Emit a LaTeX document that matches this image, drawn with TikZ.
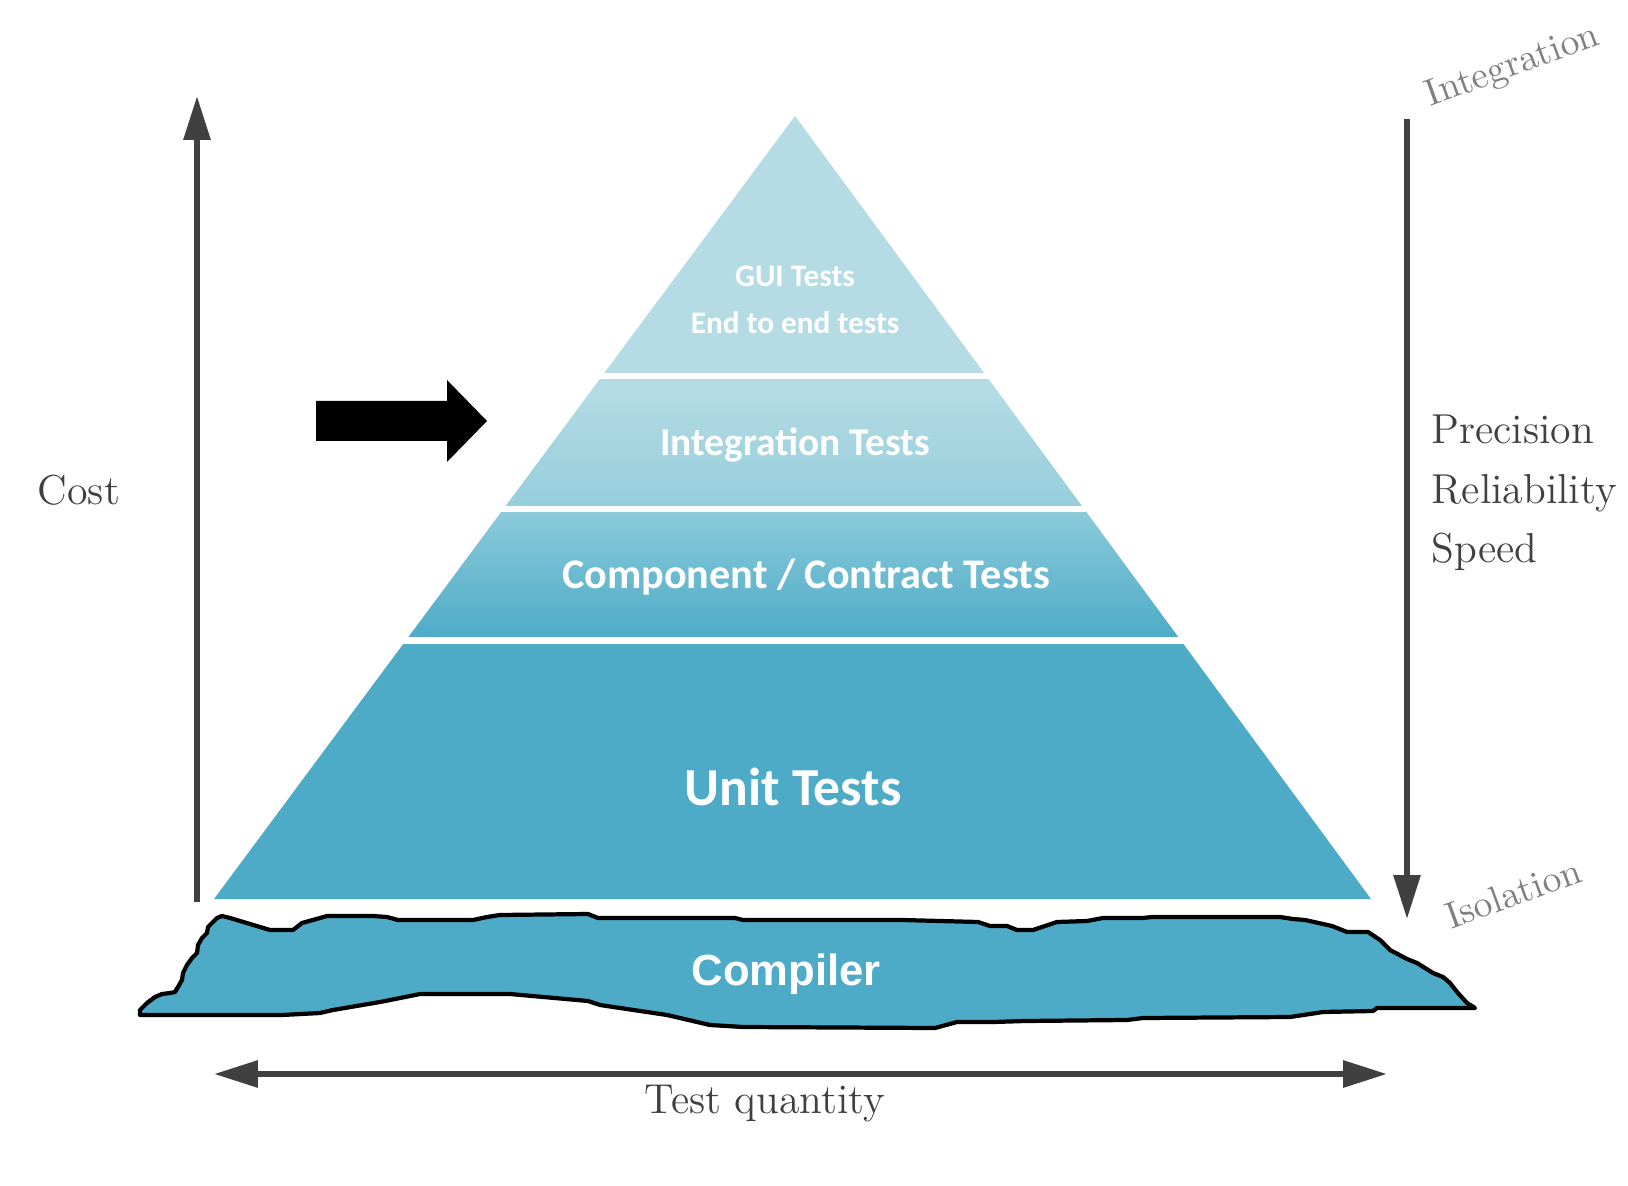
\documentclass[tikz,border=0pt]{standalone}
\usepackage{fontspec}
\usepackage{tikz}
\usetikzlibrary{arrows.meta}
\newfontfamily\tierfont{Carlito}
\newfontfamily\blobfont{Liberation Sans}
\definecolor{tierlight}{RGB}{181,220,229}
\definecolor{tiermid}{RGB}{150,206,220}
\definecolor{tiercomp}{RGB}{138,202,218}
\definecolor{tierdark}{RGB}{78,171,199}
\definecolor{axisgray}{RGB}{64,64,64}
\definecolor{notegray}{RGB}{128,128,128}

\begin{document}
\begin{tikzpicture}[x=0.01cm, y=-0.01cm,
    tier/.style={text=white, font=\tierfont\bfseries, inner sep=0pt},
    side/.style={text=axisgray, font=\fontsize{11.9}{17}\selectfont, inner sep=0pt},
    note/.style={text=notegray, font=\fontsize{10.7}{13}\selectfont, rotate=20, inner sep=0pt},
    axis/.style={draw=axisgray, line width=1.7pt, -{Triangle[length=12.5pt, width=7.4pt]}}]
    \useasboundingbox (0,0) rectangle (1628,1186);

    % Pyramid tiers
    \begin{scope}
        \clip (795,116) -- (214,899) -- (1371,899) -- cycle;
        \fill[tierlight] (0,100) rectangle (1628,373);
        \shade[top color=tierlight, bottom color=tiermid] (0,380) rectangle (1628,506);
        \shade[top color=tiercomp, bottom color=tierdark] (0,513) rectangle (1628,637);
        \fill[tierdark] (0,644) rectangle (1628,905);
    \end{scope}

    % Tier labels
    \node[tier, align=center, font=\tierfont\bfseries\fontsize{8.9}{13.4}\selectfont] (guitxt) at (795,300) {GUI Tests\\End to end tests};
    \node[tier, anchor=base, font=\tierfont\bfseries\fontsize{11.2}{13}\selectfont] (inttxt) at (795,456) {Integration Tests};
    \node[tier, anchor=base, font=\tierfont\bfseries\fontsize{12}{14}\selectfont] (comptxt) at (806,589) {Component / Contract Tests};
    \node[tier, anchor=base, font=\tierfont\bfseries\fontsize{15.2}{18}\selectfont] (unittxt) at (793,805) {Unit Tests};

    % Pointer
    \fill[black] (316,401) -- (447,401) -- (447,380) -- (487,421) -- (447,462) -- (447,441) -- (316,441) -- cycle;

    % Compiler
    \draw[fill=tierdark, draw=black, line width=1.2pt, line join=round]
        (140,1015) -- (140,1010) -- (147,1003) -- (155,997) -- (162,994) -- (170,993) -- (175,992)
        -- (178,987) -- (182,980) -- (183,973) -- (187,965) -- (192,958) -- (197,953) -- (198,945)
        -- (202,938) -- (207,933) -- (208,927) -- (217,918) -- (222,916) -- (230,918) -- (270,930)
        -- (293,930) -- (302,923) -- (320,918) -- (327,916) -- (373,916) -- (387,917) -- (398,920)
        -- (473,920) -- (487,917) -- (500,915) -- (588,914) -- (598,918) -- (735,918) -- (743,920)
        -- (902,920) -- (978,922) -- (990,926) -- (1007,926) -- (1017,930) -- (1033,930) -- (1057,922)
        -- (1087,921) -- (1103,918) -- (1143,918) -- (1152,917) -- (1280,917) -- (1293,919) -- (1305,920)
        -- (1332,926) -- (1347,932) -- (1368,932) -- (1380,940) -- (1390,950) -- (1407,959) -- (1417,963)
        -- (1433,973) -- (1443,977) -- (1450,983) -- (1457,992) -- (1467,1003) -- (1475,1008)
        -- (1377,1008) -- (1373,1011) -- (1323,1012) -- (1310,1014) -- (1290,1017) -- (1143,1018)
        -- (1127,1020) -- (1025,1021) -- (993,1022) -- (957,1022) -- (935,1028) -- (743,1027)
        -- (710,1025) -- (667,1015) -- (600,1005) -- (588,1001) -- (510,994) -- (420,994)
        -- (380,1002) -- (333,1010) -- (320,1013) -- (282,1015) -- cycle;
    \node[text=white, anchor=base, inner sep=0pt, font=\blobfont\bfseries\fontsize{12.4}{15}\selectfont] (compiler) at (786,985) {Compiler};

    % Axes
    \coordinate (costlow) at (197,902);
    \coordinate (costhigh) at (197,96);
    \coordinate (isotop) at (1407,119);
    \coordinate (isobot) at (1407,919);
    \coordinate (qleft) at (214,1074);
    \coordinate (qright) at (1387,1074);
    \draw[axis] (costlow) -- (costhigh);
    \draw[axis] (isotop) -- (isobot);
    \draw[axis, {Triangle[length=12.5pt, width=7.4pt]}-{Triangle[length=12.5pt, width=7.4pt]}] (qleft) -- (qright);

    % Axis labels
    \node[side] (cost) at (79,490) {Cost};
    \node[side, anchor=north west, align=left] (qualities) at (1431,414) {Precision\\Reliability\\Speed};
    \node[side] (quantity) at (765,1104) {Test quantity};
    \node[note] (integ) at (1513,67) {Integration};
    \node[note] (isol) at (1513,893) {Isolation};

\end{tikzpicture}
\end{document}
